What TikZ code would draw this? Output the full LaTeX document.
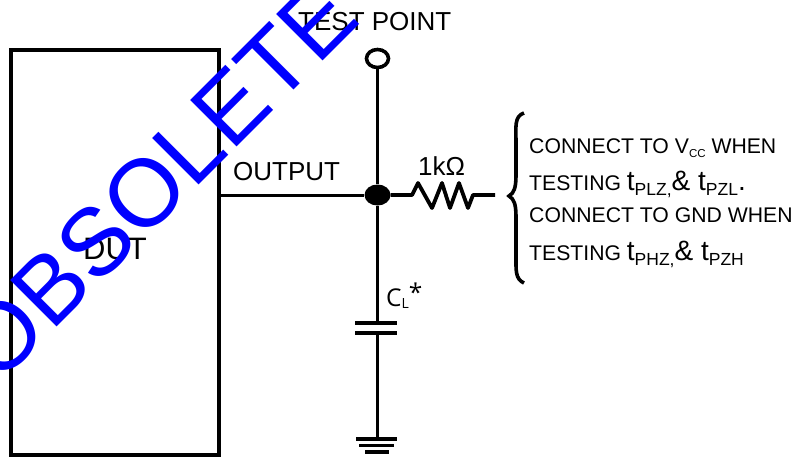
\documentclass[tikz,border=0pt]{standalone}
\usepackage{fontspec}
\setmainfont{Liberation Sans}
\newfontfamily\capfont{Open Sans}
\usetikzlibrary{shapes.geometric}
\newcommand\Sub[1]{\raisebox{-0.2em}{\fontsize{11.5}{12}\selectfont #1}}
\newcommand\SubT[1]{\raisebox{-0.25em}{\fontsize{17.5}{18}\selectfont #1}}
\newcommand\BigT[1]{{\fontsize{28}{29}\selectfont #1}}
\tikzset{
  wire/.style={line width=3.8pt},
  label/.style={inner sep=0pt, anchor=base west, font=\fontsize{26}{26}\selectfont},
  note/.style={inner sep=0pt, anchor=base west, font=\fontsize{21.2}{22}\selectfont},
}
\begin{document}
\begin{tikzpicture}[x=1pt, y=-1pt]
\newcommand\ResistorShape{-- +(6,-12) -- +(20,13) -- +(30,-12) -- +(38,13) -- +(47,-12) -- +(56,13) -- +(61,0)}
\useasboundingbox (0,0) rectangle (796,456);
\draw[line width=4pt] (11,50) rectangle (219,455);
\coordinate (dutout) at (219,195);
\node[draw, ellipse, line width=3.6pt, minimum width=22pt, minimum height=18pt, inner sep=0pt] (testpoint) at (377.5,58.5) {};
\node[fill, ellipse, minimum width=26pt, minimum height=21pt, inner sep=0pt] (junction) at (377.5,195) {};
\coordinate (platetop) at (377.5,323);
\coordinate (platebot) at (377.5,333);
\coordinate (gnd) at (377.5,439);
\coordinate (resin) at (412,195);
\coordinate (resout) at (495,195);
\draw[wire, line width=3pt] (dutout) -- (junction);
\draw[wire] (testpoint) -- (junction);
\draw[wire] (junction) -- (platetop);
\draw[wire] (platebot) -- (gnd);
\draw[wire, line join=round] (junction) -- (resin) \ResistorShape -- (resout);
% capacitor and ground
\draw[wire] (355,323) -- (397,323);
\draw[wire] (355,333) -- (397,333);
\draw[wire] (356,439) -- (397,439);
\draw[wire] (359,445.5) -- (394,445.5);
\draw[wire] (365,452) -- (389,452);
% brace
\draw[line width=3.6pt] (524,113) .. controls (514,116) and (516,128) .. (516,142) -- (516,175) .. controls (516,188) and (514,193) .. (509,196) .. controls (514,199) and (516,204) .. (516,217) -- (516,255) .. controls (516,270) and (515,279) .. (524,283);
\node[inner sep=0pt, font=\fontsize{31}{31}\selectfont] (dut) at (115,249) {DUT};
\node[label] (tptext) at (298,30) {TEST POINT};
\node[label] (outtext) at (233,180) {OUTPUT};
\node[label] (restext) at (418,175) {1kΩ};
\node[label, font=\fontsize{24.5}{25}\capfont\selectfont] (captext) at (386,306) {C{\fontsize{14}{14}\selectfont\raisebox{-0.2em}{L}}\raisebox{0.2em}{*}};
\node[note] (noteone) at (529,153) {CONNECT TO V\Sub{CC} WHEN};
\node[note] (notetwo) at (529,190) {TESTING \BigT{t}\SubT{PLZ,}\BigT{\& t}\SubT{PZL}\BigT{.}};
\node[note] (notethree) at (529,222) {CONNECT TO GND WHEN};
\node[note] (notefour) at (529,260) {TESTING \BigT{t}\SubT{PHZ,}\BigT{\& t}\SubT{PZH}};
\node[text=blue, rotate=45, inner sep=0pt, anchor=base west, font=\fontsize{95.5}{96}\selectfont] (stamp) at (-1.5,385.5) {OBSOLETE};
\end{tikzpicture}
\end{document}
